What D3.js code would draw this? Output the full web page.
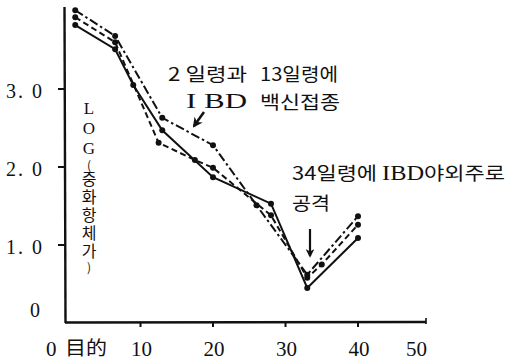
<!DOCTYPE html>
<html>
<head>
<meta charset="utf-8">
<script src="https://cdn.jsdelivr.net/npm/d3@7"></script>
<style>
  body { margin: 0; background: #fff; }
  svg text { fill: #111; }
</style>
</head>
<body>
<svg id="chart" width="508" height="360"></svg>
<script>
// Neutralising antibody titre (log) by age in days, three groups
const solidDays     = [1, 6.5, 9, 13, 20, 28, 33, 40];
const solidTiter    = [3.82, 3.51, 3.05, 2.47, 1.87, 1.53, 0.45, 1.09];
const dashDays      = [1, 6.5, 12.5, 17.5, 20, 28, 33, 35, 40];
const dashTiter     = [3.92, 3.60, 2.31, 2.09, 1.99, 1.38, 0.58, 0.75, 1.26];
const dashDotDays   = [1, 6.5, 13, 20, 26, 33, 40];
const dashDotTiter  = [4.01, 3.68, 2.63, 2.28, 1.51, 0.62, 1.37];

const xTickValues = [10, 20, 30, 40, 50];
const yTickValues = [1, 2, 3];
const yTickLabels = ["1. 0", "2. 0", "3. 0"];
const yAxisTitle  = ["LOG", "(", "중화항체가", ")"];

const svg = d3.select("#chart");
const x = d3.scaleLinear().domain([0, 40]).range([68, 358]);
const y = d3.scaleLinear().domain([0, 3]).range([323, 89]);

const serif = "'Liberation Serif', 'DejaVu Serif', serif";
const kr = "'Noto Sans CJK KR', sans-serif";
const axisEnd = 426;

// axes
const ax = svg.append("g").attr("stroke", "#111").attr("stroke-width", 2.4).attr("fill", "none");
ax.append("line").attr("x1", 64.5).attr("y1", 7).attr("x2", 65.5).attr("y2", 323);
ax.append("line").attr("x1", 65).attr("y1", 322.5).attr("x2", axisEnd).attr("y2", 322);
ax.append("line").attr("x1", axisEnd).attr("y1", 318).attr("x2", axisEnd).attr("y2", 324).attr("stroke-width", 1.6);

xTickValues.slice(0, 4).forEach(v => {
  ax.append("line").attr("x1", x(v)).attr("x2", x(v))
    .attr("y1", 322).attr("y2", 327).attr("stroke-width", 2);
});
yTickValues.forEach(v => {
  ax.append("line").attr("x1", 58).attr("x2", 65)
    .attr("y1", y(v)).attr("y2", y(v)).attr("stroke-width", 2);
});

// tick labels (the last one sits flush with the end of the axis)
xTickValues.forEach((v, i) => {
  const last = i === xTickValues.length - 1;
  svg.append("text").attr("x", last ? axisEnd + 1 : x(v) + 1).attr("y", 356)
    .attr("text-anchor", last ? "end" : "middle").attr("font-family", serif)
    .attr("font-size", 21).text(String(v));
});
svg.append("text").attr("x", 46).attr("y", 356).attr("font-family", serif)
  .attr("font-size", 21).text("0");
svg.append("text").attr("x", 65).attr("y", 355).attr("font-family", kr)
  .attr("font-size", 19).attr("textLength", 42).attr("lengthAdjust", "spacingAndGlyphs")
  .text("目的");

yTickValues.forEach((v, i) => {
  svg.append("text").attr("x", 42).attr("y", y(v) + 9)
    .attr("text-anchor", "end").attr("font-family", serif)
    .attr("font-size", 20).attr("textLength", 36).attr("lengthAdjust", "spacing")
    .text(yTickLabels[i]);
});
svg.append("text").attr("x", 40).attr("y", 317).attr("text-anchor", "end")
  .attr("font-family", serif).attr("font-size", 20).text("0");

// vertical axis title, written top to bottom
const title = svg.append("text").attr("x", 89).attr("y", 99)
  .style("writing-mode", "vertical-rl").style("text-orientation", "upright")
  .attr("font-family", kr).attr("font-size", 16);
title.append("tspan").attr("font-family", serif).attr("font-size", 17)
  .style("letter-spacing", "1px").text(yAxisTitle[0]);
title.append("tspan").attr("font-size", 12).text(yAxisTitle[1]);
title.append("tspan").style("letter-spacing", "2px").text(yAxisTitle[2]);
title.append("tspan").attr("font-size", 12).text(yAxisTitle[3]);

// series
const series = [
  { days: solidDays,   titer: solidTiter,   dash: null },
  { days: dashDays,    titer: dashTiter,    dash: "6,3.5" },
  { days: dashDotDays, titer: dashDotTiter, dash: "9,3,2.5,3" }
];
const line = d3.line().x(d => x(d[0])).y(d => y(d[1]));
series.forEach(s => {
  const pts = s.days.map((d, i) => [d, s.titer[i]]);
  svg.append("path").datum(pts).attr("d", line)
    .attr("fill", "none").attr("stroke", "#111").attr("stroke-width", 2)
    .attr("stroke-dasharray", s.dash);
  svg.append("g").selectAll("circle").data(pts).join("circle")
    .attr("cx", d => x(d[0])).attr("cy", d => y(d[1])).attr("r", 3)
    .attr("fill", "#111");
});

// annotations
function label(txt, x0, y0, w, size) {
  return svg.append("text").attr("x", x0).attr("y", y0).attr("font-family", kr)
    .attr("font-size", size || 18).attr("textLength", w)
    .attr("lengthAdjust", "spacingAndGlyphs").text(txt);
}
label("2 일령과", 168, 81, 79);
label("13일령에", 260, 81, 78);
svg.append("text").attr("x", 186).attr("y", 108).attr("font-family", serif)
  .attr("font-size", 22).attr("textLength", 61).attr("lengthAdjust", "spacingAndGlyphs").text("I BD");
label("백신접종", 260, 109, 80);

const attack = svg.append("text").attr("x", 292).attr("y", 180).attr("font-family", kr)
  .attr("font-size", 18).attr("textLength", 213).attr("lengthAdjust", "spacingAndGlyphs");
attack.append("tspan").text("34일령에  ");
attack.append("tspan").attr("font-family", serif).attr("font-size", 20).text("IBD");
attack.append("tspan").text("야외주로");
label("공격", 292, 210, 38);

svg.append("defs").append("marker").attr("id", "ah")
  .attr("viewBox", "0 0 10 10").attr("refX", 8).attr("refY", 5)
  .attr("markerWidth", 4).attr("markerHeight", 4).attr("orient", "auto")
  .append("path").attr("d", "M0,0L10,5L0,10L3,5Z").attr("fill", "#111");
svg.append("line").attr("x1", 204).attr("y1", 112).attr("x2", 194).attr("y2", 126)
  .attr("stroke", "#111").attr("stroke-width", 2.5).attr("marker-end", "url(#ah)");
svg.append("line").attr("x1", 310).attr("y1", 229).attr("x2", 310).attr("y2", 256)
  .attr("stroke", "#111").attr("stroke-width", 2.2).attr("marker-end", "url(#ah)");
</script>
</body>
</html>
